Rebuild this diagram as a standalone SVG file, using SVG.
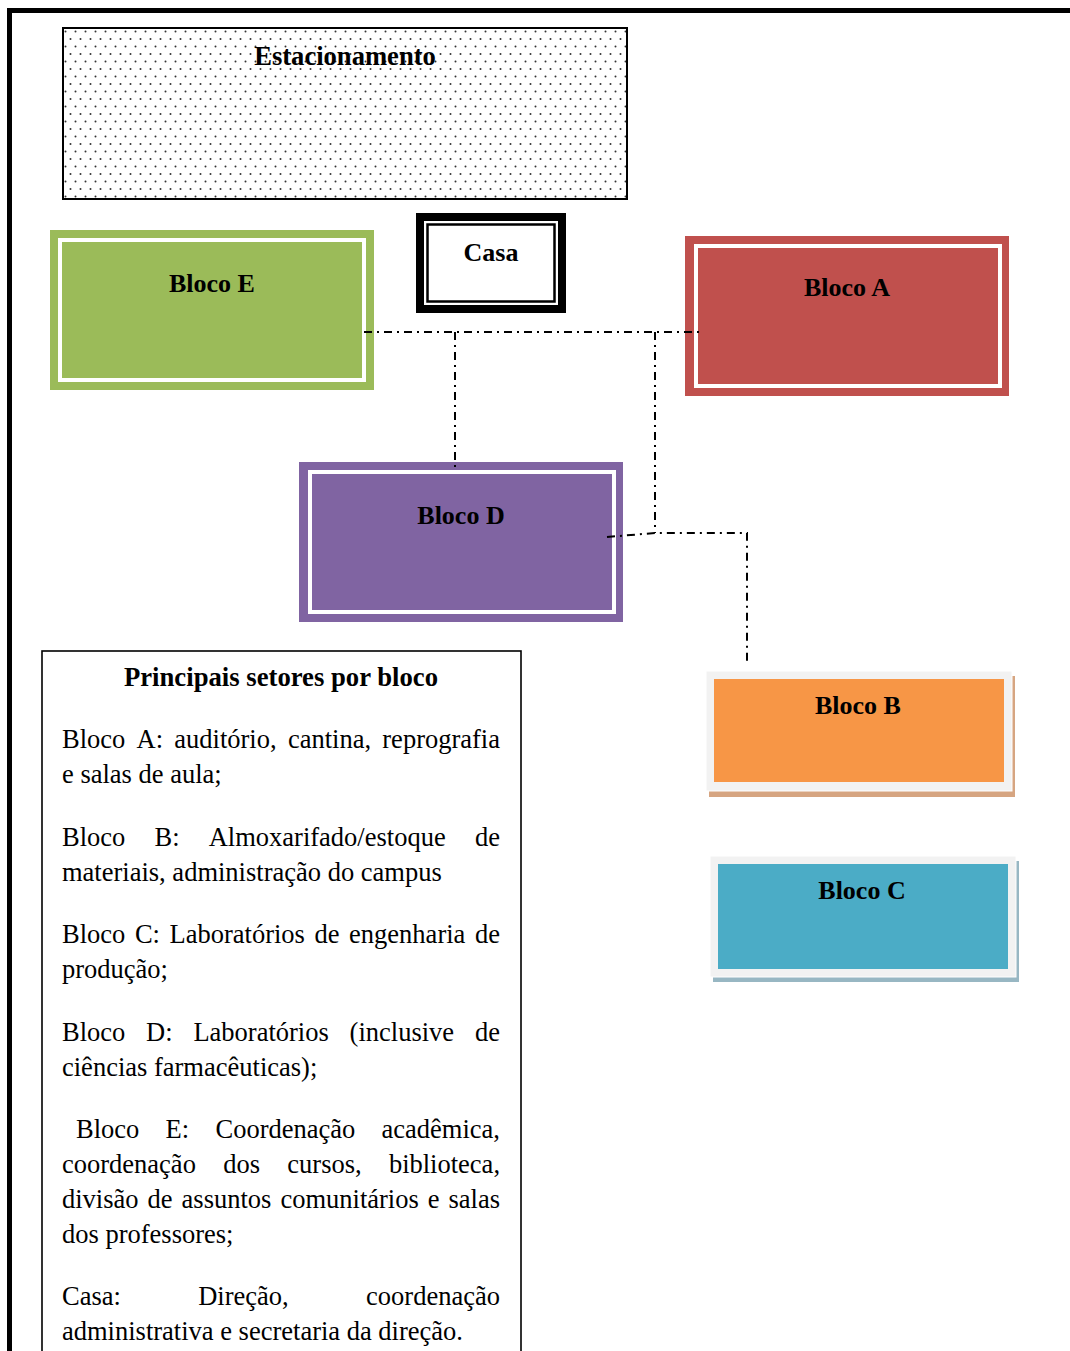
<svg xmlns="http://www.w3.org/2000/svg" width="1070" height="1351" viewBox="0 0 1070 1351">
<defs>
<pattern id="dots" x="63" y="28" width="10" height="15" patternUnits="userSpaceOnUse">
<rect width="10" height="15" fill="#ffffff"/>
<circle cx="2.5" cy="3.5" r="1" fill="#333"/>
<circle cx="7.5" cy="11" r="1" fill="#333"/>
</pattern>
<style>
.lbl{font-family:"Liberation Serif","Times New Roman",serif;font-weight:bold;font-size:26px;fill:#000;text-anchor:middle}
.big{font-size:26.6px}
.body{font-family:"Liberation Serif","Times New Roman",serif;font-size:26.5px;fill:#000}
.title{font-family:"Liberation Serif","Times New Roman",serif;font-weight:bold;font-size:26.7px;fill:#000;text-anchor:middle}
.conn{fill:none;stroke:#000;stroke-width:2;stroke-dasharray:8 5 2 5}
.inner{fill:none;stroke:#fff;stroke-width:4}
</style>
</defs>
<rect width="1070" height="1351" fill="#fff"/>
<g id="frame">
<line x1="7" y1="10.5" x2="1070" y2="10.5" stroke="#000" stroke-width="5"/>
<line x1="9.5" y1="8" x2="9.5" y2="1351" stroke="#000" stroke-width="5"/>
</g>
<g id="estacionamento">
<rect x="63" y="28" width="564" height="171" fill="url(#dots)" stroke="#000" stroke-width="2"/>
<text class="lbl big" x="345" y="65">Estacionamento</text>
</g>
<g id="bloco-e">
<rect x="50" y="230" width="324" height="160" fill="#9bbb59"/>
<rect class="inner" x="60" y="240" width="304" height="140"/>
<text class="lbl" x="212" y="292">Bloco E</text>
</g>
<g id="casa">
<rect x="420" y="217" width="142" height="92" fill="#fff" stroke="#000" stroke-width="8"/>
<rect x="427.5" y="224.5" width="127" height="77" fill="none" stroke="#000" stroke-width="2.5"/>
<text class="lbl" x="491" y="261">Casa</text>
</g>
<g id="bloco-a">
<rect x="685" y="236" width="324" height="160" fill="#c0504d"/>
<rect class="inner" x="696" y="246" width="304" height="140"/>
<text class="lbl" x="847" y="296">Bloco A</text>
</g>
<g id="bloco-d">
<rect x="299" y="462" width="324" height="160" fill="#8064a2"/>
<rect class="inner" x="310" y="472" width="304" height="140"/>
<text class="lbl" x="461" y="524">Bloco D</text>
</g>
<g id="bloco-b">
<rect x="709" y="676" width="306" height="121" fill="#d6a581"/>
<rect x="706" y="671" width="306" height="120" fill="#f2f2f2" stroke="#fff" stroke-width="1"/>
<rect x="714" y="679" width="290" height="103" fill="#f79646"/>
<text class="lbl" x="858" y="714">Bloco B</text>
</g>
<g id="bloco-c">
<rect x="713" y="861" width="306" height="121" fill="#98b7c3"/>
<rect x="710" y="856" width="306" height="121" fill="#f2f2f2" stroke="#fff" stroke-width="1"/>
<rect x="718" y="864" width="290" height="105" fill="#4bacc6"/>
<text class="lbl" x="862" y="899">Bloco C</text>
</g>
<g id="connectors">
<path class="conn" d="M364 332 H702"/>
<path class="conn" d="M455 332 V468"/>
<path class="conn" d="M655 332 V533"/>
<path class="conn" d="M607 537 L655 533 H747 V665"/>
</g>
<g id="legenda">
<rect x="42" y="651" width="479" height="720" fill="#fff" stroke="#000" stroke-width="1.6"/>
<text class="title" x="281" y="686">Principais setores por bloco</text>
<text class="body" y="748"><tspan x="62">Bloco</tspan><tspan x="136.6">A:</tspan><tspan x="174.3">auditório,</tspan><tspan x="287.9">cantina,</tspan><tspan x="382.3">reprografia</tspan></text>
<text class="body" x="62" y="783">e salas de aula;</text>
<text class="body" y="846"><tspan x="62">Bloco</tspan><tspan x="154.5">B:</tspan><tspan x="208.7">Almoxarifado/estoque</tspan><tspan x="475">de</tspan></text>
<text class="body" x="62" y="881">materiais, administração do campus</text>
<text class="body" y="943"><tspan x="62">Bloco</tspan><tspan x="134.9">C:</tspan><tspan x="169.5">Laboratórios</tspan><tspan x="314.5">de</tspan><tspan x="349.1">engenharia</tspan><tspan x="475">de</tspan></text>
<text class="body" x="62" y="978">produção;</text>
<text class="body" y="1041"><tspan x="62">Bloco</tspan><tspan x="146.1">D:</tspan><tspan x="193.4">Laboratórios</tspan><tspan x="349.6">(inclusive</tspan><tspan x="475">de</tspan></text>
<text class="body" x="62" y="1076">ciências farmacêuticas);</text>
<text class="body" y="1138"><tspan x="76">Bloco</tspan><tspan x="165.6">E:</tspan><tspan x="215.5">Coordenação</tspan><tspan x="381.5">acadêmica,</tspan></text>
<text class="body" y="1173"><tspan x="62">coordenação</tspan><tspan x="223.2">dos</tspan><tspan x="287.3">cursos,</tspan><tspan x="388.9">biblioteca,</tspan></text>
<text class="body" y="1208"><tspan x="62">divisão</tspan><tspan x="147.6">de</tspan><tspan x="181.6">assuntos</tspan><tspan x="280.4">comunitários</tspan><tspan x="427.8">e</tspan><tspan x="448.5">salas</tspan></text>
<text class="body" x="62" y="1243">dos professores;</text>
<text class="body" y="1305"><tspan x="62">Casa:</tspan><tspan x="198.2">Direção,</tspan><tspan x="366.1">coordenação</tspan></text>
<text class="body" x="62" y="1340">administrativa e secretaria da direção.</text>
</g>
</svg>
